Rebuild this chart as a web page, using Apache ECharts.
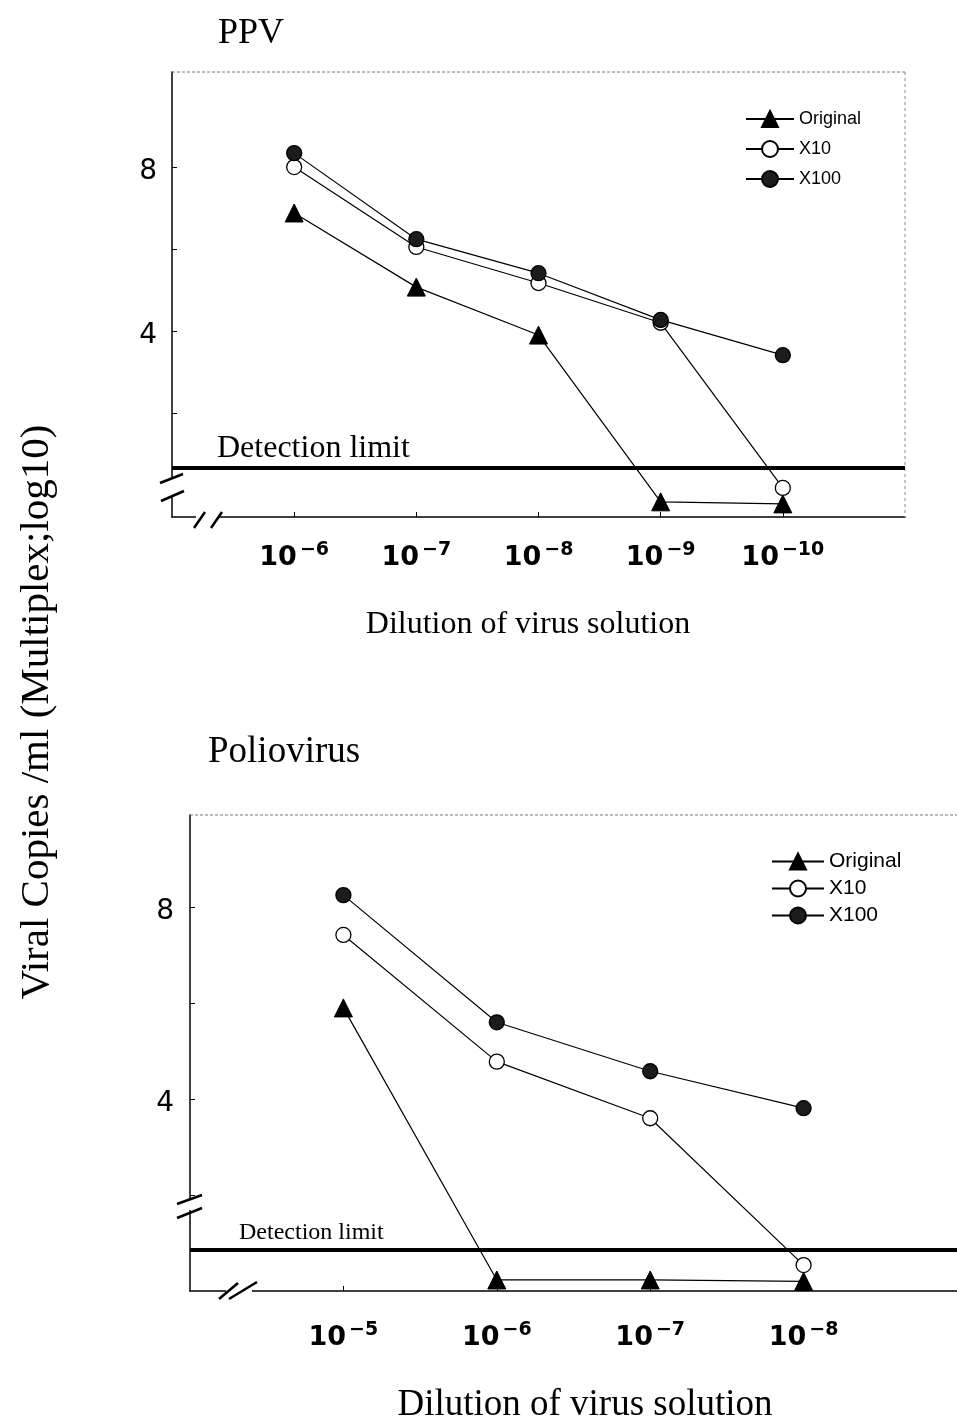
<!DOCTYPE html>
<html>
<head>
<meta charset="utf-8">
<script src="https://cdn.jsdelivr.net/npm/echarts@6/dist/echarts.min.js"></script>
<style>
html,body{margin:0;padding:0;background:#fff;}
#chart{width:957px;height:1425px;}
</style>
</head>
<body>
<div id="chart"></div>
<script>
// ---- data ----
const ppvExponents = [-6, -7, -8, -9, -10];
const ppvOriginal = [6.88, 5.07, 3.9, -0.17, -0.22];
const ppvX10 = [8.0, 6.05, 5.17, 4.2, 0.17];
const ppvX100 = [8.34, 6.24, 5.41, 4.27, 3.41];
const ppvDetection = 0.66;

const polioExponents = [-5, -6, -7, -8];
const polioOriginal = [5.9, 0.23, 0.23, 0.2];
const polioX10 = [7.42, 4.78, 3.6, 0.54];
const polioX100 = [8.25, 5.6, 4.58, 3.81];
const polioDetection = 0.85;

const seriesNames = ['Original', 'X10', 'X100'];
const yTickValues = [2, 4, 6, 8];
const yLabelValues = [4, 8];

const panelTitles = ['PPV', 'Poliovirus'];
const xTitle = 'Dilution of virus solution';
const yTitle = 'Viral Copies /ml (Multiplex;log10)';
const detectionText = 'Detection limit';

// ---- layout ----
const SERIF = '"Liberation Serif", "DejaVu Serif", serif';
const SANS = '"Liberation Sans", Arial, sans-serif';
const WIDE = '"DejaVu Sans", "Liberation Sans", sans-serif';
const G1 = {left: 172, top: 72, width: 733, height: 445};
const G2 = {left: 190, top: 815, width: 770, height: 476};

function toPairs(arr) { return arr.map((v, i) => [i, v]); }

const styles = {
  Original: {symbol: 'triangle', symbolSize: 18, itemStyle: {color: '#000', borderColor: '#000', borderWidth: 1}},
  X10: {symbol: 'circle', symbolSize: 15, itemStyle: {color: '#fff', borderColor: '#000', borderWidth: 1.3}},
  X100: {symbol: 'circle', symbolSize: 15, itemStyle: {color: '#1c1c1c', borderColor: '#000', borderWidth: 1.3}}
};

function makeSeries(idx, arrays, det, detFont, detOffset) {
  return seriesNames.map((name, k) => {
    const s = Object.assign({
      name: name, type: 'line', xAxisIndex: idx, yAxisIndex: idx,
      data: toPairs(arrays[k]), lineStyle: {color: '#000', width: 1.2},
      emphasis: {disabled: true}, animation: false, z: 3 + k
    }, styles[name]);
    if (k === 0) {
      s.markLine = {
        silent: true, symbol: ['none', 'none'], animation: false,
        lineStyle: {color: '#000', width: 4, type: 'solid'},
        label: {show: true, position: 'insideStartTop', formatter: detectionText,
          fontFamily: SERIF, fontSize: detFont, color: '#000', offset: detOffset},
        data: [{yAxis: det}]
      };
    }
    return s;
  });
}

function xLabelFormatter(exps) {
  return function (v) {
    const i = Math.round(v);
    if (i < 0 || i >= exps.length) return '';
    return '{b|10}{s|\u2212' + Math.abs(exps[i]) + '}';
  };
}

const xRich = {
  b: {fontFamily: WIDE, fontSize: 27, fontWeight: 'bold', color: '#000'},
  s: {fontFamily: WIDE, fontSize: 19, fontWeight: 'bold', color: '#000', padding: [0, 0, 14, 3]}
};

function xAxisCfg(idx, exps, max, margin) {
  return {
    type: 'value', gridIndex: idx, min: -1, max: max, interval: 1,
    axisLine: {show: true, onZero: false, lineStyle: {color: '#000', width: 1.5}},
    axisTick: {show: true, inside: true, length: 5, customValues: exps.map((e, i) => i), lineStyle: {color: '#000'}},
    axisLabel: {show: true, margin: margin, customValues: exps.map((e, i) => i), formatter: xLabelFormatter(exps), rich: xRich},
    splitLine: {show: false}
  };
}

function yAxisCfg(idx, min, max, margin) {
  return {
    type: 'value', gridIndex: idx, min: min, max: max,
    axisLine: {show: true, onZero: false, lineStyle: {color: '#000', width: 1.5}},
    axisTick: {show: true, inside: true, length: 5, customValues: yTickValues, lineStyle: {color: '#000'}},
    axisLabel: {show: true, margin: margin, customValues: yLabelValues, formatter: '{a|{value}}',
      rich: {a: {fontFamily: WIDE, fontSize: 28, color: '#000', padding: [10, 0, 0, 0]}}},
    splitLine: {show: false}
  };
}

const breakLines = [];
function addBreak(x1, y1, x2, y2) {
  breakLines.push({type: 'line', shape: {x1: x1, y1: y1, x2: x2, y2: y2}, style: {stroke: '#000', lineWidth: 2.5}, z: 20});
}
const gaps = [
  {type: 'rect', shape: {x: 166, y: 479, width: 12, height: 17}, style: {fill: '#fff'}, z: 19},
  {type: 'rect', shape: {x: 196, y: 511, width: 22, height: 12}, style: {fill: '#fff'}, z: 19},
  {type: 'rect', shape: {x: 184, y: 1200, width: 12, height: 10}, style: {fill: '#fff'}, z: 19},
  {type: 'rect', shape: {x: 226, y: 1285, width: 26, height: 12}, style: {fill: '#fff'}, z: 19}
];
addBreak(160, 483, 183, 474);
addBreak(161, 501, 184, 491);
addBreak(194, 528, 205, 512);
addBreak(211, 528, 222, 512);
addBreak(177, 1204, 202, 1195);
addBreak(177, 1218, 202, 1208);
addBreak(219, 1299, 238, 1283);
addBreak(229, 1299, 257, 1282);

const frame = [
  {type: 'line', shape: {x1: G1.left, y1: G1.top, x2: G1.left + G1.width, y2: G1.top}, style: {stroke: '#777', lineWidth: 1, lineDash: [3, 2]}, z: 1},
  {type: 'line', shape: {x1: G1.left + G1.width, y1: G1.top, x2: G1.left + G1.width, y2: G1.top + G1.height}, style: {stroke: '#888', lineWidth: 1, lineDash: [3, 3]}, z: 1},
  {type: 'line', shape: {x1: G2.left, y1: G2.top, x2: 957, y2: G2.top}, style: {stroke: '#777', lineWidth: 1, lineDash: [3, 2]}, z: 1}
];

const texts = [
  {type: 'text', left: 218, top: 16, style: {text: panelTitles[0], font: '36px ' + SERIF, fill: '#000'}},
  {type: 'text', left: 208, top: 734, style: {text: panelTitles[1], font: '37px ' + SERIF, fill: '#000'}},
  {type: 'text', x: 528, y: 625, style: {text: xTitle, font: '32px ' + SERIF, fill: '#000', align: 'center', verticalAlign: 'middle'}},
  {type: 'text', x: 585, y: 1405, style: {text: xTitle, font: '37px ' + SERIF, fill: '#000', align: 'center', verticalAlign: 'middle'}},
  {type: 'text', x: 37, y: 712, rotation: Math.PI / 2, style: {text: yTitle, font: '41px ' + SERIF, fill: '#000', align: 'center', verticalAlign: 'middle'}}
];

const chart = echarts.init(document.getElementById('chart'), null, {renderer: 'canvas'});
chart.setOption({
  backgroundColor: '#fff',
  animation: false,
  grid: [
    Object.assign({containLabel: false}, G1),
    Object.assign({containLabel: false}, G2)
  ],
  xAxis: [xAxisCfg(0, ppvExponents, 5, 24), xAxisCfg(1, polioExponents, 4, 30)],
  yAxis: [yAxisCfg(0, -0.54, 10.32, 15), yAxisCfg(1, 0, 9.92, 16)],
  legend: [
    {orient: 'vertical', left: 740, top: 104, itemWidth: 48, itemHeight: 20, itemGap: 10,
      data: seriesNames, selectedMode: false, textStyle: {fontFamily: SANS, fontSize: 18, color: '#000', lineHeight: 20}},
    {orient: 'vertical', left: 766, top: 846, itemWidth: 52, itemHeight: 20, itemGap: 6,
      data: seriesNames, selectedMode: false, textStyle: {fontFamily: SANS, fontSize: 21, color: '#000'}}
  ],
  series: [].concat(
    makeSeries(0, [ppvOriginal, ppvX10, ppvX100], ppvDetection, 32, [40, 2]),
    makeSeries(1, [polioOriginal, polioX10, polioX100], polioDetection, 24, [44, -1])
  ),
  graphic: {elements: [].concat(frame, gaps, breakLines, texts)}
});
</script>
</body>
</html>
